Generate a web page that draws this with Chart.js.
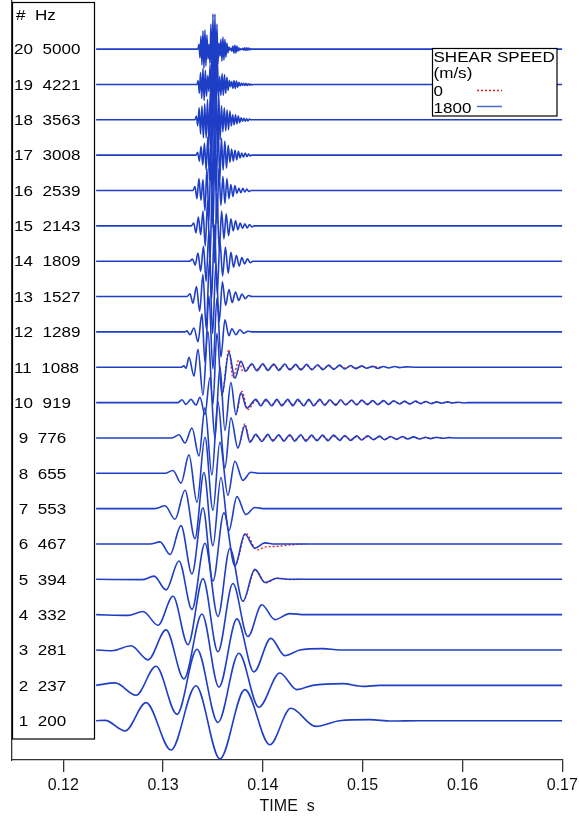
<!DOCTYPE html>
<html>
<head>
<meta charset="utf-8">
<script src="https://cdn.jsdelivr.net/npm/chart.js@4"></script>
<style>
  html, body { margin: 0; padding: 0; background: #fff; }
  canvas { display: block; }
</style>
</head>
<body>
<canvas id="waves" width="579" height="820"></canvas>
<script>
// traces, bottom to top
var traceNo = [1, 2, 3, 4, 5, 6, 7, 8, 9, 10, 11, 12, 13, 14, 15, 16, 17, 18, 19, 20];
var traceHz = [200, 237, 281, 332, 394, 467, 553, 655, 776, 919, 1088, 1289, 1527, 1809, 2143, 2539, 3008, 3563, 4221, 5000];
var timeTicks = [0.12, 0.13, 0.14, 0.15, 0.16, 0.17];

// shear speed 1800 m/s : [time ms, amplitude in % of trace spacing]
var w1 = [[123.3,0],[124.2,1],[126.2,-29],[128.3,51],[130.8,-83],[133.3,99],[135.7,-108],[138.2,88],[140.7,-68],[142.8,35],[145.3,-16],[147.7,0],[150.7,3],[152.9,-1],[155.6,0],[170,0]];
var w2 = [[123.3,0],[125.2,7],[127.3,-28],[129.3,54],[131.4,-82],[133.4,102],[135.5,-105],[137.6,91],[139.6,-62],[141.7,35],[143.4,-12],[145.0,0],[148.0,5],[150.0,-3],[151.7,0],[170,0]];
var w3 = [[123.3,0],[124.9,-2],[126.8,12],[128.5,-28],[130.3,57],[132.1,-82],[133.9,102],[135.6,-105],[137.4,88],[139.1,-62],[140.8,33],[142.2,-16],[143.7,0],[146.0,4],[147.7,0],[170,0]];
var w4 = [[123.3,0],[126.5,-2],[128.0,9],[129.5,-30],[131.0,52],[132.5,-85],[134.0,102],[135.5,-105],[137.0,88],[138.5,-62],[139.9,28],[141.2,-14],[142.7,3],[144.2,0],[170,0]];
var w5 = [[123.3,0],[127.9,-1],[129.1,9],[130.3,-30],[131.6,52],[132.9,-85],[134.2,102],[135.5,-105],[136.7,88],[138.0,-62],[139.2,28],[140.2,-9],[141.4,3],[142.7,0],[170,0]];
var w6 = [[123.3,0],[128.7,0],[129.7,6],[130.7,-30],[131.8,52],[132.9,-85],[134.0,102],[135.0,-105],[136.1,88],[137.2,-62],[138.2,28],[139.2,-12],[140.2,3],[141.2,0],[170,0]];
var w7 = [[123.3,0],[129.2,0],[130.2,8],[131.2,-30],[132.2,52],[133.2,-85],[134.1,102],[135.0,-105],[135.8,88],[136.6,-62],[137.4,34],[138.3,-17],[139.2,3],[140.2,0],[170,0]];
var w8 = [[123.3,0],[130.2,0],[131.0,8],[131.8,-28],[132.6,52],[133.4,-82],[134.2,102],[135.0,-105],[135.7,88],[136.5,-62],[137.2,34],[138.0,-20],[138.8,3],[139.7,0],[170,0]];
var w9 = [[123.3,0],[130.9,0],[131.6,9],[132.2,-14],[132.9,28],[133.6,-51],[134.2,85],[134.9,-105],[135.5,102],[136.2,-85],[136.8,57],[137.5,-28],[138.2,35],[138.7,-12],
  [139.3,10],[139.9,-10],[140.5,10],[141.0,-9],[141.6,9],[142.1,-9],[142.7,9],[143.2,-9],[143.8,9],[144.3,-9],[144.9,8],[145.4,-8],[146.0,8],[146.5,-8],[147.1,8],[147.7,-7],
  [148.2,7],[148.8,-7],[149.4,6],[149.9,-6],[150.5,6],[151.1,-5],[151.7,5],[152.2,-5],[152.8,4],[153.4,-4],[154.0,4],[154.5,-3],[155.1,3],[155.7,-3],[156.3,2],[156.8,-2],
  [157.4,2],[158.0,-1],[158.6,1],[159.2,0],[170,0]];
var w10 = [[123.3,0],[131.5,0],[131.9,8],[132.3,-5],[132.8,9],[133.3,-7],[133.7,15],[134.2,-34],[134.7,71],[135.2,-102],[135.7,102],[136.2,-79],[136.8,57],[137.3,-34],[137.8,28],[138.4,-16],
  [139.3,9],[139.8,-9],[140.3,9],[140.9,-9],[141.4,9],[141.9,-9],[142.5,9],[143.0,-9],[143.5,9],[144.1,-9],[144.6,9],[145.1,-9],[145.7,9],[146.2,-8],[146.7,8],[147.3,-8],
  [147.8,8],[148.3,-7],[148.9,7],[149.4,-7],[149.9,7],[150.5,-6],[151.0,6],[151.5,-6],[152.1,6],[152.6,-5],[153.1,5],[153.7,-4],[154.2,4],[154.7,-4],[155.3,4],[155.8,-3],
  [156.3,3],[156.9,-3],[157.4,2],[157.9,-2],[158.5,2],[159.0,-1],[159.5,1],[160.1,-1],[160.6,0],[170,0]];
var w11 = [[123.3,0],[131.8,0],[132.1,4],[132.3,-3],[132.6,28],[133.1,-25],[133.5,51],[134.0,-79],[134.5,102],[135.0,-105],[135.4,96],[135.9,-79],[136.6,42],[137.2,-31],[137.8,17],[138.3,-11],
  [138.9,10],[139.4,-10],[140.0,10],[140.5,-9],[141.1,9],[141.6,-9],[142.2,9],[142.7,-8],[143.3,8],[143.8,-8],[144.4,8],[144.9,-7],[145.5,7],[146.0,-7],[146.6,6],[147.1,-6],
  [147.7,6],[148.2,-5],[148.8,5],[149.3,-4],[149.9,4],[150.4,-3],[151.0,3],[151.5,-3],[152.1,2],[152.6,-2],[153.2,2],[153.7,-1],[154.3,1],[155.4,0],[170,0]];
var w12 = [[123.3,0],[132.2,0],[132.4,3],[132.7,-8],[133.1,11],[133.5,-28],[133.9,51],[134.2,-85],[134.6,102],[135.0,-105],[135.4,96],[135.8,-71],[136.2,34],[136.6,-11],[136.9,9],[137.3,-8],[137.7,6],[138.1,-4],[138.5,2],[138.9,0],[170,0]];
var w13 = [[123.3,0],[132.4,0],[132.7,8],[133.0,-19],[133.35,28],[133.67,-42],[134.0,62],[134.33,-91],[134.65,102],[134.97,-105],[135.3,93],[135.63,-71],[135.95,42],[136.27,-25],[136.61,20],[136.93,-17],[137.26,13],[137.59,-11],[137.91,7],[138.24,-6],[138.57,3],[138.9,0],[170,0]];
var w14 = [[123.3,0],[132.67,0],[132.95,6],[133.22,-11],[133.5,23],[133.77,-28],[134.05,42],[134.32,-57],[134.6,85],[134.87,-105],[135.15,102],[135.43,-91],[135.7,57],[135.97,-42],[136.25,40],[136.53,-34],[136.8,25],[137.07,-17],[137.35,17],[137.63,-14],[137.9,10],[138.17,-8],[138.45,7],[138.73,-4],[139.01,0],[170,0]];
var w15 = [[123.3,0],[132.84,0],[133.07,8],[133.3,-20],[133.54,25],[133.77,-25],[134.0,42],[134.23,-57],[134.47,71],[134.7,-99],[134.93,102],[135.17,-105],[135.4,93],[135.63,-71],[135.87,42],[136.1,-37],[136.33,34],[136.57,-28],[136.8,20],[137.03,-14],[137.27,14],[137.5,-11],[137.73,8],[137.97,-7],[138.2,6],[138.43,-6],[138.67,4],[138.9,-3],[139.13,0],[170,0]];
var w16 = [[123.3,0],[133.0,0],[133.2,11],[133.4,-23],[133.6,34],[133.8,-28],[134.0,31],[134.2,-57],[134.4,62],[134.6,-85],[134.8,102],[135.0,-105],[135.2,102],[135.4,-93],[135.6,62],[135.8,-42],[136.0,40],[136.2,-37],[136.4,34],[136.6,-23],[136.8,17],[137.0,-17],[137.2,14],[137.4,-8],[137.6,6],[137.8,-6],[138.0,6],[138.2,-4],[138.4,4],[138.6,-3],[138.8,0],[170,0]];
var w17 = [[123.3,0],[133.3,0],[133.47,8],[133.64,-17],[133.81,25],[133.98,-28],[134.15,34],[134.32,-42],[134.49,51],[134.66,-71],[134.83,91],[135.0,-102],[135.17,105],[135.34,-102],[135.51,96],[135.68,-71],[135.85,48],[136.02,-42],[136.19,40],[136.36,-37],[136.53,28],[136.7,-20],[136.87,17],[137.04,-17],[137.21,14],[137.38,-13],[137.55,11],[137.72,-8],[137.89,6],[138.06,-6],[138.23,6],[138.4,-4],[138.57,3],[138.74,-2],[138.91,0],[170,0]];
var w18 = [[123.3,0],[133.2,0],[133.34,11],[133.48,-17],[133.62,34],[133.76,-40],[133.9,40],[134.04,-51],[134.18,45],[134.32,-51],[134.46,57],[134.6,-71],[134.74,85],[134.88,-102],[135.02,105],[135.16,-102],[135.3,102],[135.44,-91],[135.58,71],[135.72,-57],[135.86,40],[136.0,-34],[136.14,34],[136.28,-31],[136.42,28],[136.56,-28],[136.7,25],[136.84,-17],[136.98,14],[137.12,-14],[137.26,14],[137.4,-11],[137.54,11],[137.68,-8],[137.82,6],[137.96,-4],[138.1,4],[138.24,-4],[138.38,3],[138.52,-3],[138.66,2],[138.8,0],[170,0]];
var w19 = [[123.3,0],[133.4,0],[133.52,11],[133.64,-25],[133.76,34],[133.88,-40],[134.0,45],[134.12,-45],[134.24,40],[134.36,-34],[134.48,25],[134.6,-20],[134.72,57],[134.84,-85],[134.96,99],[135.08,-102],[135.2,102],[135.32,-96],[135.44,71],[135.56,-34],[135.68,23],[135.8,-31],[135.92,31],[136.04,-31],[136.16,28],[136.28,-25],[136.4,20],[136.52,-17],[136.64,11],[136.76,-6],[136.88,8],[137.0,-11],[137.12,11],[137.24,-11],[137.36,10],[137.48,-8],[137.6,6],[137.72,-4],[137.84,3],[137.96,-2],[138.08,3],[138.2,-3],[138.32,3],[138.44,-3],[138.56,2],[138.68,-2],[138.8,1],[138.92,-1],[139.04,0],[170,0]];
var w20 = [[123.3,0],[133.5,0],[133.6,14],[133.7,-25],[133.8,37],[133.9,-45],[134.0,51],[134.1,-54],[134.2,54],[134.3,-48],[134.4,40],[134.5,-28],[134.6,14],[134.7,-40],[134.8,71],[134.9,-91],[135.0,99],[135.1,-102],[135.2,99],[135.3,-91],[135.4,71],[135.5,-42],[135.6,17],[135.7,-20],[135.8,28],[135.9,-34],[136.0,34],[136.1,-31],[136.2,28],[136.3,-23],[136.4,17],[136.5,-11],[136.6,6],[136.7,-3],[136.8,3],[136.9,-6],[137.0,9],[137.1,-11],[137.2,11],[137.3,-11],[137.4,9],[137.5,-6],[137.6,4],[137.7,-3],[137.8,1],[137.9,-1],[138.0,2],[138.1,-3],[138.2,4],[138.3,-4],[138.4,4],[138.5,-3],[138.6,3],[138.7,-2],[138.8,1],[138.9,0],[170,0]];

// shear speed 0 m/s, only from where it departs from the 1800 m/s trace
var r5 = [[137.95,-62],[138.0,-62],[139.25,27],[140.3,-10],[141.5,3],[142.7,-1],[144.0,0]];
var r6 = [[137.15,-62],[137.2,-62],[138.3,30],[139.4,-17],[140.3,-8],[141.3,-7],[142.3,-4],[143.3,-1.5],[144.3,0]];
var r9 = [[137.45,-28],[137.5,-28],[138.2,40],[138.7,-8],[139.3,6],[139.9,-6],[140.5,6],[141.0,-5],[141.6,5],[142.1,-5],[142.7,5],[143.2,-5],[143.8,5],[144.3,-5],[144.9,4],[145.4,-4],[146.0,4],[146.5,-4],[147.1,4],[147.7,-4],[148.2,4],[148.8,-4],[149.4,3],[149.9,-3],[150.5,3],[151.1,-3],[151.7,3],[152.2,-3],[152.8,2],[153.4,-2],[154.0,2],[154.5,-2],[155.1,2],[155.7,-2],[156.3,1],[156.8,-1],[157.4,1],[158.0,0]];
var r10 = [[137.25,-34],[137.3,-34],[137.9,32],[138.5,-20],[139.3,5],[139.8,-5],[140.3,5],[140.9,-5],[141.4,5],[141.9,-5],[142.5,5],[143.0,-5],[143.5,5],[144.1,-5],[144.6,5],[145.1,-5],[145.7,5],[146.2,-4],[146.7,4],[147.3,-4],[147.8,4],[148.3,-4],[148.9,4],[149.4,-4],[149.9,4],[150.5,-3],[151.0,3],[151.5,-3],[152.1,3],[152.6,-3],[153.1,3],[153.7,-2],[154.2,2],[154.7,-2],[155.3,2],[155.8,-2],[156.3,2],[156.9,-2],[157.4,1],[157.9,-1],[158.5,1],[159.0,-1],[159.5,0]];
var r11 = [[135.85,-79],[135.9,-79],[136.6,50],[137.0,-30],[137.6,20],[138.0,-12],[138.9,6],[139.4,-6],[140.0,6],[140.5,-5],[141.1,5],[141.6,-5],[142.2,5],[142.7,-4],[143.3,4],[143.8,-4],[144.4,4],[144.9,-4],[145.5,4],[146.0,-3],[146.6,3],[147.1,-3],[147.7,3],[148.2,-2],[148.8,2],[149.3,-2],[149.9,2],[150.4,-1],[151.0,1],[152.0,0]];

var BLUE = '#1f3ec6';
var RED = '#dd2222';
var FONT = '"Liberation Sans", Arial, Helvetica, sans-serif';

function toPoints(w, k) {
  return w.map(function (p) { return { x: p[0] / 1000, y: k + p[1] / 100 }; });
}

function pad(n, width) {
  var s = String(n);
  while (s.length < width) s = ' ' + s;
  return s;
}

// the labels in the figure are a little wider than tall
function wideText(ctx, text, x, y) {
  ctx.save();
  ctx.translate(x, y);
  ctx.scale(1.1, 1);
  ctx.fillText(text, 0, 0);
  ctx.restore();
}

var blueWaves = [w1, w2, w3, w4, w5, w6, w7, w8, w9, w10, w11, w12, w13, w14, w15, w16, w17, w18, w19, w20];
var redWaves = [[5, r5], [6, r6], [9, r9], [10, r10], [11, r11]];

var datasets = [];
redWaves.forEach(function (r) {
  datasets.push({
    data: toPoints(r[1], r[0]),
    borderColor: RED,
    borderWidth: 1.3,
    borderDash: [2, 2],
    order: 1
  });
});
blueWaves.forEach(function (w, i) {
  datasets.push({
    data: toPoints(w, traceNo[i]),
    borderColor: BLUE,
    borderWidth: 1.6,
    order: 0
  });
});

// label box on the left and the legend box
var boxes = {
  id: 'boxes',
  afterDatasetsDraw: function (chart) {
    var ctx = chart.ctx;
    var y = chart.scales.y;
    ctx.save();
    ctx.lineWidth = 1.2;
    ctx.strokeStyle = '#000';

    ctx.fillStyle = '#fff';
    ctx.fillRect(12, 2, 82.5, 737);
    ctx.strokeRect(12.5, 2.5, 82, 736.5);
    ctx.fillStyle = '#000';
    ctx.font = '15.5px ' + FONT;
    ctx.textBaseline = 'middle';
    wideText(ctx, '#', 16, y.getPixelForValue(21) + 2);
    wideText(ctx, 'Hz', 35, y.getPixelForValue(21) + 2);
    traceNo.forEach(function (k, i) {
      wideText(ctx, pad(k, 2) + '  ' + traceHz[i], 14, y.getPixelForValue(k) + 1);
    });

    ctx.fillStyle = '#fff';
    ctx.fillRect(432, 48, 125, 68);
    ctx.strokeRect(432.5, 48.5, 124.5, 67.5);
    ctx.fillStyle = '#000';
    ctx.textBaseline = 'alphabetic';
    wideText(ctx, 'SHEAR SPEED', 433.5, 61.5);
    wideText(ctx, '(m/s)', 433.5, 78);
    wideText(ctx, '0', 433.5, 96);
    wideText(ctx, '1800', 433.5, 112.5);

    ctx.lineWidth = 1.3;
    ctx.strokeStyle = RED;
    ctx.setLineDash([2, 2]);
    ctx.beginPath();
    ctx.moveTo(477, 90.5);
    ctx.lineTo(502, 90.5);
    ctx.stroke();
    ctx.setLineDash([]);
    ctx.strokeStyle = '#4a6cc8';
    ctx.lineWidth = 1.5;
    ctx.beginPath();
    ctx.moveTo(477, 106.5);
    ctx.lineTo(502, 106.5);
    ctx.stroke();
    ctx.restore();
  }
};

Chart.defaults.font.family = FONT;
Chart.defaults.font.size = 16;
Chart.defaults.color = '#111';

new Chart(document.getElementById('waves'), {
  type: 'line',
  data: { datasets: datasets },
  options: {
    responsive: false,
    animation: false,
    devicePixelRatio: 1,
    layout: { padding: { left: 12, right: 16.7, top: 0, bottom: 0 } },
    plugins: { legend: { display: false }, tooltip: { enabled: false } },
    elements: {
      point: { radius: 0 },
      line: { cubicInterpolationMode: 'monotone', fill: false, borderJoinStyle: 'round' }
    },
    scales: {
      x: {
        type: 'linear',
        min: 0.11487,
        max: 0.17,
        afterBuildTicks: function (scale) {
          scale.ticks = timeTicks.map(function (v) { return { value: v }; });
        },
        afterFit: function (scale) {
          scale.paddingLeft = 0;
          scale.paddingRight = 0;
        },
        ticks: {
          callback: function (v) { return v.toFixed(2); },
          padding: 6,
          maxRotation: 0,
          autoSkip: false,
          font: { size: 16, lineHeight: 1.0 }
        },
        grid: { drawOnChartArea: false, tickLength: 12, color: '#333', lineWidth: 1.3 },
        border: { color: '#333', width: 1.3 },
        title: { display: true, text: 'TIME  s', font: { size: 16, lineHeight: 1.0 }, padding: { top: -1, bottom: 5 } }
      },
      y: {
        type: 'linear',
        min: -0.112,
        max: 21.39,
        ticks: { display: false },
        grid: { drawOnChartArea: false, drawTicks: false },
        border: { color: '#333', width: 1.3 }
      }
    }
  },
  plugins: [boxes]
});
</script>
</body>
</html>
